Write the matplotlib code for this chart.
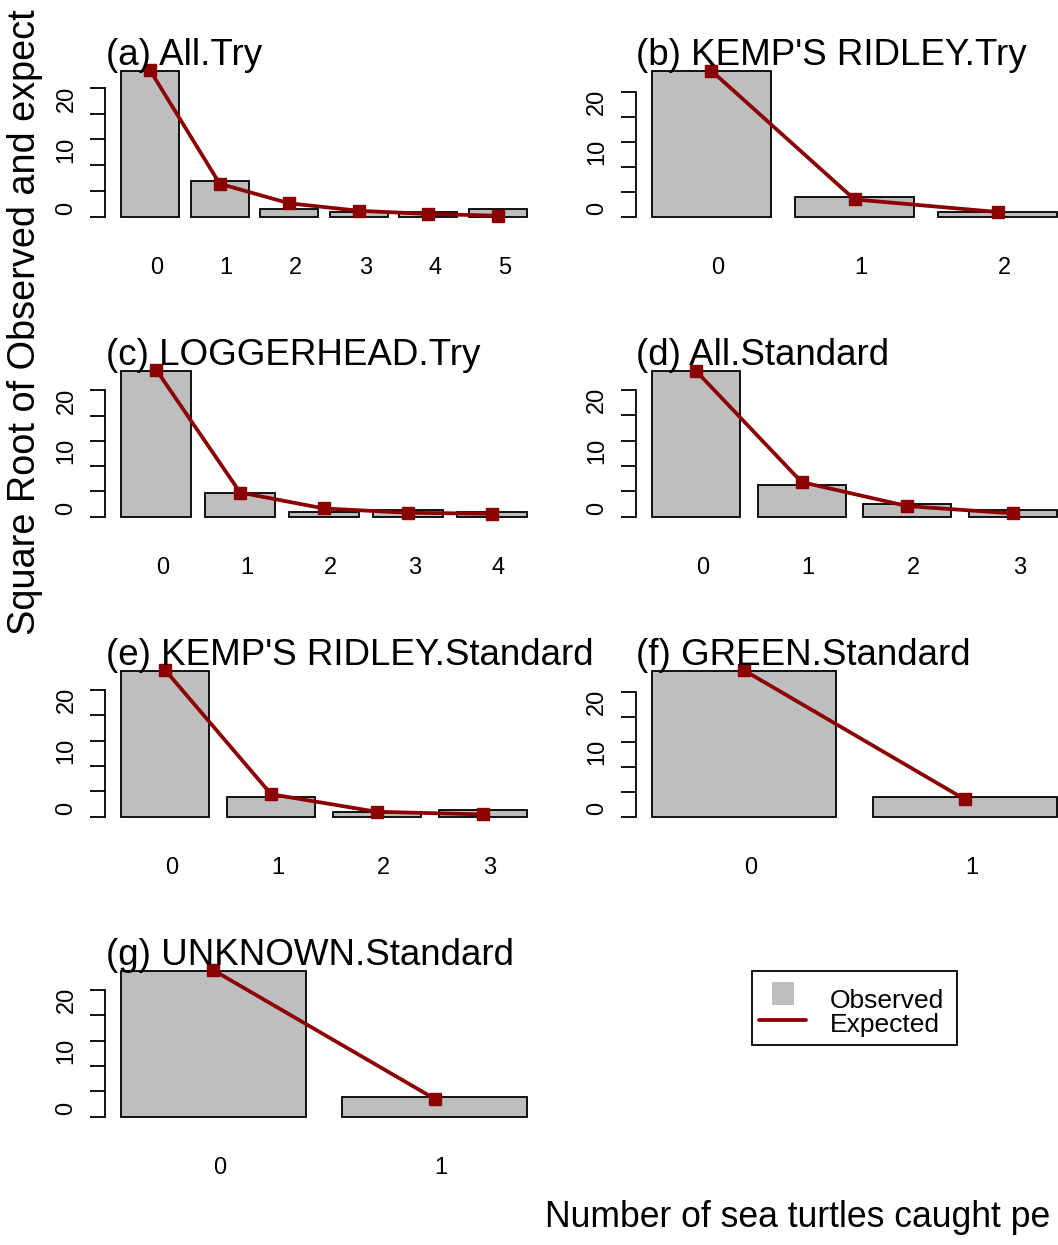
import matplotlib.pyplot as plt
import matplotlib.transforms as mtransforms
from matplotlib.patches import Rectangle
from matplotlib.lines import Line2D

plt.rcParams['font.family'] = ['Liberation Sans', 'DejaVu Sans']

# 各面板标题
titles = ['(a) All.Try', "(b) KEMP'S RIDLEY.Try", '(c) LOGGERHEAD.Try',
          '(d) All.Standard', "(e) KEMP'S RIDLEY.Standard", '(f) GREEN.Standard',
          '(g) UNKNOWN.Standard']

# 观测频数与期望频数的平方根
obs_a = [28.3, 6.9, 1.41, 1.0, 1.0, 1.41]
exp_a = [28.35, 6.4, 2.6, 1.16, 0.55, 0.2]
obs_b = [29.2, 3.87, 1.0]
exp_b = [29.2, 3.47, 0.95]
obs_c = [28.9, 4.7, 1.0, 1.41, 1.0]
exp_c = [29.1, 4.8, 1.64, 0.79, 0.59]
obs_d = [28.8, 6.2, 2.5, 1.32]
exp_d = [28.8, 6.84, 2.1, 0.66]
obs_e = [28.8, 3.93, 1.0, 1.41]
exp_e = [28.9, 4.45, 0.98, 0.46]
obs_f = [29.3, 3.87]
exp_f = [29.4, 3.47]
obs_g = [28.8, 3.82]
exp_g = [28.9, 3.55]

observed = [obs_a, obs_b, obs_c, obs_d, obs_e, obs_f, obs_g]
expected = [exp_a, exp_b, exp_c, exp_d, exp_e, exp_f, exp_g]

y_ticks = [0, 5, 10, 15, 20, 25]
y_labels = ['0', '', '10', '', '20', '']

W, H = 1058, 1245
bar_grey = '#BEBEBE'
line_red = '#8B0000'

fig = plt.figure(figsize=(W / 100, H / 100), dpi=100)


def px_axes(x0, top, w, h):
    # 按像素位置建坐标轴
    return fig.add_axes([x0 / W, 1 - (top + h) / H, w / W, h / H])


def shift(dx, dy):
    # 文字偏移（像素）
    return mtransforms.ScaledTranslation(dx / 100, dy / 100, fig.dpi_scale_trans)


def draw_panel(ax, title, obs, exp):
    n = len(obs)
    centers = [0.7 + 1.2 * i for i in range(n)]
    ax.bar(centers, obs, width=1.0, color=bar_grey, edgecolor='black', linewidth=1.3)
    ax.plot(centers, exp, color=line_red, linewidth=2.7, marker='s', markersize=8.5,
            clip_on=False, zorder=3)

    d = 1.2 * n - 0.2
    ax.set_xlim(0.2 - 0.04 * d, 1.2 * n + 0.04 * d)
    m = max(obs)
    ax.set_ylim(-0.04 * m, 1.04 * m)

    for s in ['top', 'right', 'bottom']:
        ax.spines[s].set_visible(False)
    ax.spines['left'].set_bounds(0, 25)
    ax.spines['left'].set_linewidth(1.3)
    ax.patch.set_visible(False)

    ax.set_yticks(y_ticks)
    ax.set_yticklabels(y_labels, rotation=90, va='center', fontsize=17)
    ax.tick_params(axis='y', length=10.8, width=1.3, pad=9)
    for lab in ax.get_yticklabels():
        up = 8 if len(lab.get_text()) == 1 else 15
        lab.set_transform(lab.get_transform() + shift(0, up))

    ax.set_xticks(centers)
    ax.set_xticklabels([str(i) for i in range(n)], fontsize=17)
    ax.tick_params(axis='x', length=0, pad=25)
    for lab in ax.get_xticklabels():
        lab.set_transform(lab.get_transform() + shift(6.5, 0))

    ax.text(0, 1, title, transform=ax.transAxes + shift(1, -0.5),
            ha='left', va='baseline', fontsize=26.5)


for i in range(len(titles)):
    col = i % 2
    row = i // 2
    ax = px_axes(105 + 530.5 * col, 64.9 + 300 * row, 438, 157.7)
    draw_panel(ax, titles[i], observed[i], expected[i])

# 图例
lax = px_axes(0, 0, W, H)
lax.set_xlim(0, W)
lax.set_ylim(H, 0)
lax.axis('off')
lax.add_patch(Rectangle((752, 971), 205, 74, fill=False, edgecolor='black', linewidth=1.3))
lax.add_patch(Rectangle((772, 982), 22, 23, facecolor=bar_grey, edgecolor='none'))
lax.add_line(Line2D([759, 806], [1020, 1020], color=line_red, linewidth=2.7,
                    solid_capstyle='round'))
lax.text(830, 1008, 'Observed', fontsize=19, va='baseline', ha='left')
lax.text(830, 1032, 'Expected', fontsize=19, va='baseline', ha='left')

# 外侧坐标轴标题
fig.text(35 / W, 1 - 635 / H, 'Square Root of Observed and expect', rotation=90,
         rotation_mode='anchor', ha='left', va='baseline', fontsize=27.3)
fig.text(545 / W, 1 - 1227 / H, 'Number of sea turtles caught pe',
         ha='left', va='baseline', fontsize=25.6)

plt.savefig('out.png', dpi=100)
